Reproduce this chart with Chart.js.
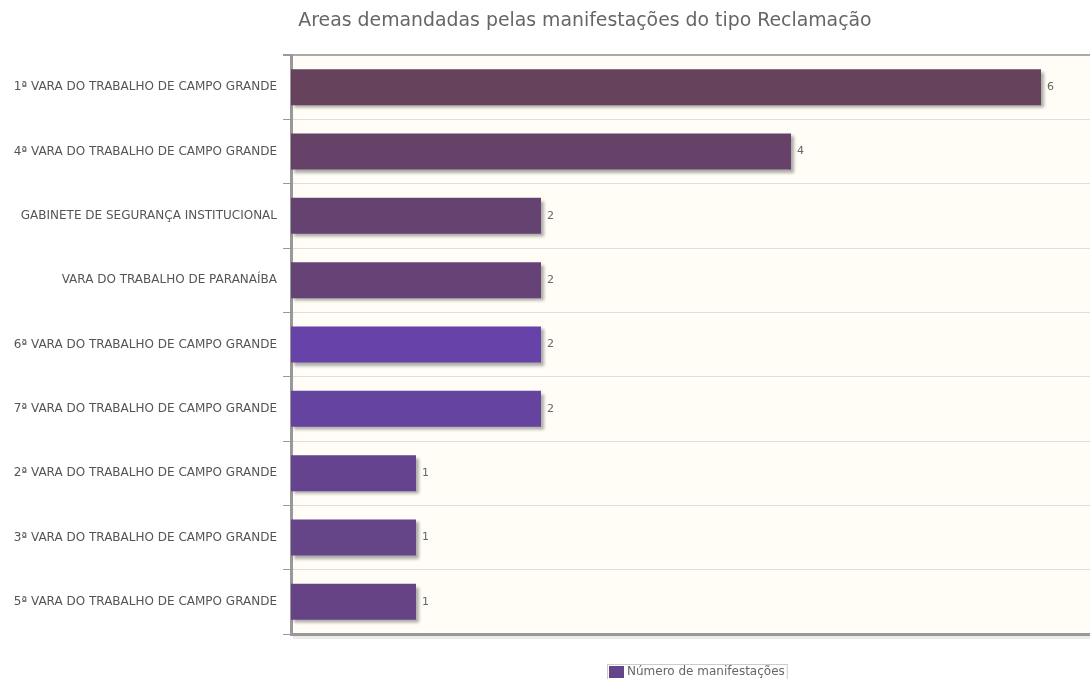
<!DOCTYPE html>
<html>
<head>
<meta charset="utf-8">
<script src="https://cdn.jsdelivr.net/npm/chart.js@4.4.0/dist/chart.umd.min.js"></script>
<style>
html,body{margin:0;padding:0;background:#ffffff;}
#wrap{width:1090px;height:679px;position:relative;}
</style>
</head>
<body>
<div id="wrap"><canvas id="c" width="1090" height="679"></canvas></div>
<script>
const chartTitle = "Areas demandadas pelas manifestações do tipo Reclamação";
const seriesLabel = "Número de manifestações";
const categories = [
  "1ª VARA DO TRABALHO DE CAMPO GRANDE",
  "4ª VARA DO TRABALHO DE CAMPO GRANDE",
  "GABINETE DE SEGURANÇA INSTITUCIONAL",
  "VARA DO TRABALHO DE PARANAÍBA",
  "6ª VARA DO TRABALHO DE CAMPO GRANDE",
  "7ª VARA DO TRABALHO DE CAMPO GRANDE",
  "2ª VARA DO TRABALHO DE CAMPO GRANDE",
  "3ª VARA DO TRABALHO DE CAMPO GRANDE",
  "5ª VARA DO TRABALHO DE CAMPO GRANDE"
];
const values = [6, 4, 2, 2, 2, 2, 1, 1, 1];
const barColors = ["#66425c", "#664268", "#654371", "#654377", "#6642a9", "#6544a0", "#65438e", "#654488", "#664384"];
const legendColor = "#66448a";

const bgPlugin = {
  id: 'bgPlugin',
  beforeDraw(chart) {
    const {ctx, chartArea: a} = chart;
    ctx.save();
    ctx.fillStyle = '#fffdf6';
    ctx.fillRect(a.left, a.top, a.right - a.left, a.bottom - a.top);
    ctx.restore();
  }
};

const shadowPlugin = {
  id: 'shadowPlugin',
  beforeDatasetsDraw(chart) {
    const ctx = chart.ctx;
    ctx.save();
    ctx.shadowColor = 'rgba(0,0,0,0.32)';
    ctx.shadowOffsetX = 3;
    ctx.shadowOffsetY = 3;
    ctx.shadowBlur = 3;
  },
  afterDatasetsDraw(chart) {
    chart.ctx.restore();
    const ctx = chart.ctx;
    const meta = chart.getDatasetMeta(0);
    ctx.save();
    ctx.fillStyle = '#666';
    ctx.font = '11px "DejaVu Sans", sans-serif';
    ctx.textBaseline = 'middle';
    ctx.textAlign = 'left';
    meta.data.forEach((el, i) => {
      ctx.fillText(String(chart.data.datasets[0].data[i]), el.x + 6, el.y);
    });
    ctx.restore();
  }
};

const deco = {
  id: 'deco',
  afterDraw(chart) {
    const {ctx, chartArea: a} = chart;
    ctx.save();
    // title
    ctx.fillStyle = '#666';
    let fs = 18;
    ctx.font = fs + 'px "DejaVu Sans", sans-serif';
    const w0 = ctx.measureText(chartTitle).width;
    fs = Math.min(22, Math.max(14, fs * 574 / w0));
    ctx.font = fs.toFixed(2) + 'px "DejaVu Sans", sans-serif';
    ctx.textAlign = 'center';
    ctx.textBaseline = 'middle';
    ctx.fillText(chartTitle, 585, 21);
    // bottom axis shadow
    ctx.strokeStyle = 'rgba(0,0,0,0.08)';
    for (let k = 1; k <= 3; k++) {
      ctx.lineWidth = 1;
      ctx.beginPath();
      ctx.moveTo(a.left + 2, a.bottom + 1.5 + k);
      ctx.lineTo(a.right, a.bottom + 1.5 + k);
      ctx.stroke();
    }
    // legend
    ctx.font = '12px "DejaVu Sans", sans-serif';
    ctx.textAlign = 'left';
    const tw = ctx.measureText(seriesLabel).width;
    const bx = 607, by = 664;
    ctx.strokeStyle = '#ccc';
    ctx.lineWidth = 1;
    ctx.strokeRect(bx + 0.5, by + 0.5, 20 + tw + 2, 15);
    ctx.fillStyle = legendColor;
    ctx.fillRect(bx + 2, by + 2, 15, 12);
    ctx.fillStyle = '#666';
    ctx.fillText(seriesLabel, bx + 20, by + 8);
    ctx.restore();
  }
};

new Chart(document.getElementById('c'), {
  type: 'bar',
  data: {
    labels: categories,
    datasets: [{
      label: seriesLabel,
      data: values,
      backgroundColor: barColors,
      borderWidth: 0,
      barPercentage: 0.56,
      categoryPercentage: 1.0
    }]
  },
  options: {
    indexAxis: 'y',
    responsive: false,
    animation: false,
    layout: { padding: { top: 55, bottom: 45, left: 0, right: 0 } },
    plugins: {
      legend: { display: false },
      title: { display: false },
      tooltip: { enabled: false }
    },
    scales: {
      x: {
        min: 0,
        max: 6.392,
        ticks: { display: false },
        grid: { display: false, drawTicks: false },
        border: { display: true, color: '#999', width: 3 }
      },
      y: {
        afterFit(scale) { scale.width = 291; },
        ticks: {
          color: '#555',
          padding: 6,
          font: { family: '"DejaVu Sans", sans-serif', size: 12 }
        },
        grid: {
          offset: true,
          color: (c) => c.index === 0 ? '#aaa' : '#ddd',
          lineWidth: (c) => c.index === 0 ? 2 : 1,
          tickColor: '#999',
          tickLength: 8
        },
        border: { display: true, color: '#999', width: 3 }
      }
    }
  },
  plugins: [bgPlugin, shadowPlugin, deco]
});
</script>
</body>
</html>
